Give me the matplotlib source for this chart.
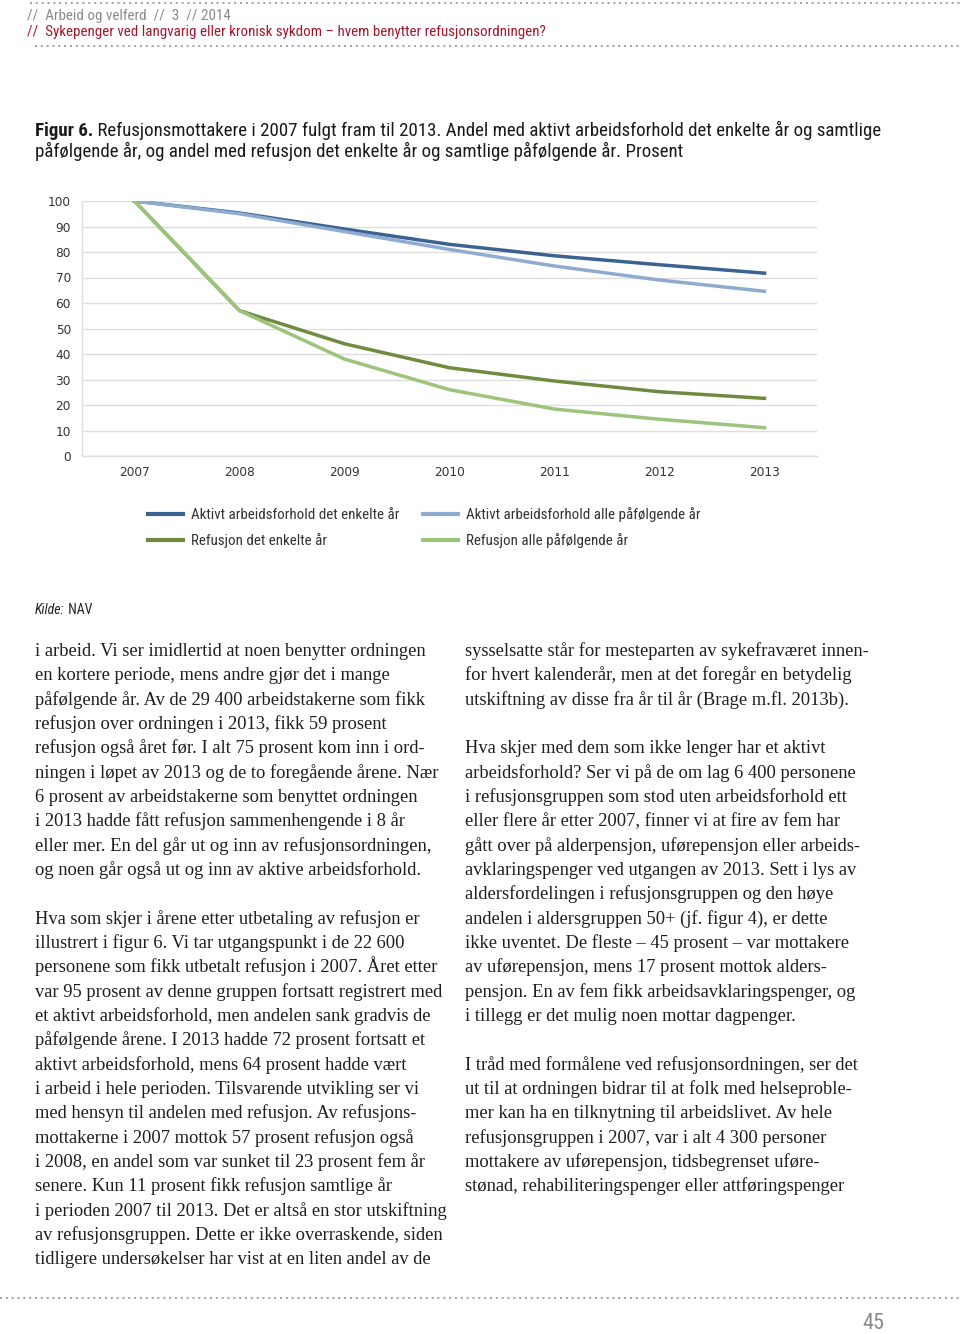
import matplotlib
matplotlib.use("Agg")
import matplotlib.pyplot as plt
from matplotlib.lines import Line2D

# ---------------- data ----------------
years = ["2007", "2008", "2009", "2010", "2011", "2012", "2013"]
aktiv_enkelte = [100, 95.3, 89, 83, 78.5, 75, 71.7]
aktiv_alle = [100, 95, 88, 81, 74.5, 69, 64.6]
refusjon_enkelte = [100, 57, 44, 34.6, 29.4, 25.2, 22.6]
refusjon_alle = [100, 57, 38, 26, 18.4, 14.4, 11.1]
series_labels = [
    "Aktivt arbeidsforhold det enkelte år",
    "Aktivt arbeidsforhold alle påfølgende år",
    "Refusjon det enkelte år",
    "Refusjon alle påfølgende år",
]
y_ticks = [0, 10, 20, 30, 40, 50, 60, 70, 80, 90, 100]

header_line1 = "//  Arbeid og velferd  //  3  // 2014"
header_line2 = "//  Sykepenger ved langvarig eller kronisk sykdom – hvem benytter refusjonsordningen?"
title_bold = "Figur 6."
title_rest1 = " Refusjonsmottakere i 2007 fulgt fram til 2013. Andel med aktivt arbeidsforhold det enkelte år og samtlige"
title_line2 = "påfølgende år, og andel med refusjon det enkelte år og samtlige påfølgende år. Prosent"
source_label = "Kilde:"
source_value = " NAV"
page_number = "45"

left_col = [
    (0, "i arbeid. Vi ser imidlertid at noen benytter ordningen"),
    (1, "en kortere periode, mens andre gjør det i mange"),
    (2, "påfølgende år. Av de 29 400 arbeidstakerne som fikk"),
    (3, "refusjon over ordningen i 2013, fikk 59 prosent"),
    (4, "refusjon også året før. I alt 75 prosent kom inn i ord-"),
    (5, "ningen i løpet av 2013 og de to foregående årene. Nær"),
    (6, "6 prosent av arbeidstakerne som benyttet ordningen"),
    (7, "i 2013 hadde fått refusjon sammenhengende i 8 år"),
    (8, "eller mer. En del går ut og inn av refusjonsordningen,"),
    (9, "og noen går også ut og inn av aktive arbeidsforhold."),
    (11, "Hva som skjer i årene etter utbetaling av refusjon er"),
    (12, "illustrert i figur 6. Vi tar utgangspunkt i de 22 600"),
    (13, "personene som fikk utbetalt refusjon i 2007. Året etter"),
    (14, "var 95 prosent av denne gruppen fortsatt registrert med"),
    (15, "et aktivt arbeidsforhold, men andelen sank gradvis de"),
    (16, "påfølgende årene. I 2013 hadde 72 prosent fortsatt et"),
    (17, "aktivt arbeidsforhold, mens 64 prosent hadde vært"),
    (18, "i arbeid i hele perioden. Tilsvarende utvikling ser vi"),
    (19, "med hensyn til andelen med refusjon. Av refusjons-"),
    (20, "mottakerne i 2007 mottok 57 prosent refusjon også"),
    (21, "i 2008, en andel som var sunket til 23 prosent fem år"),
    (22, "senere. Kun 11 prosent fikk refusjon samtlige år"),
    (23, "i perioden 2007 til 2013. Det er altså en stor utskiftning"),
    (24, "av refusjonsgruppen. Dette er ikke overraskende, siden"),
    (25, "tidligere undersøkelser har vist at en liten andel av de"),
]
right_col = [
    (0, "sysselsatte står for mesteparten av sykefraværet innen-"),
    (1, "for hvert kalenderår, men at det foregår en betydelig"),
    (2, "utskiftning av disse fra år til år (Brage m.fl. 2013b)."),
    (4, "Hva skjer med dem som ikke lenger har et aktivt"),
    (5, "arbeidsforhold? Ser vi på de om lag 6 400 personene"),
    (6, "i refusjonsgruppen som stod uten arbeidsforhold ett"),
    (7, "eller flere år etter 2007, finner vi at fire av fem har"),
    (8, "gått over på alderpensjon, uførepensjon eller arbeids-"),
    (9, "avklaringspenger ved utgangen av 2013. Sett i lys av"),
    (10, "aldersfordelingen i refusjonsgruppen og den høye"),
    (11, "andelen i aldersgruppen 50+ (jf. figur 4), er dette"),
    (12, "ikke uventet. De fleste – 45 prosent – var mottakere"),
    (13, "av uførepensjon, mens 17 prosent mottok alders-"),
    (14, "pensjon. En av fem fikk arbeidsavklaringspenger, og"),
    (15, "i tillegg er det mulig noen mottar dagpenger."),
    (17, "I tråd med formålene ved refusjonsordningen, ser det"),
    (18, "ut til at ordningen bidrar til at folk med helseproble-"),
    (19, "mer kan ha en tilknytning til arbeidslivet. Av hele"),
    (20, "refusjonsgruppen i 2007, var i alt 4 300 personer"),
    (21, "mottakere av uførepensjon, tidsbegrenset uføre-"),
    (22, "stønad, rehabiliteringspenger eller attføringspenger"),
]

# ---------------- styling ----------------
W, H = 960, 1334
SANS = ["Liberation Sans Narrow", "Roboto Condensed", "Roboto", "DejaVu Sans"]
SERIF = ["Liberation Serif", "DejaVu Serif"]
CHART = ["DejaVu Sans"]
c_dark_blue = "#3a6391"
c_light_blue = "#8eabd0"
c_dark_green = "#6f8b3f"
c_light_green = "#9cc47b"
grid_c = "#dedede"

fig = plt.figure(figsize=(W / 100, H / 100), dpi=100)
fig.patch.set_facecolor("white")
renderer = fig.canvas.get_renderer()


def fx(x):
    return x / W


def fy(y):
    return 1 - y / H


def width_px(s, **kw):
    t = fig.text(0, 0, s, **kw)
    w = t.get_window_extent(renderer).width
    t.remove()
    return w


def fit(s, target, **kw):
    return 10 * target / width_px(s, fontsize=10, **kw)


def dotted(x0, x1, y):
    fig.add_artist(Line2D([fx(x0), fx(x1)], [fy(y), fy(y)], transform=fig.transFigure,
                          linestyle=(0, (1, 2)), color="#a0a0a0", lw=1.4))


# header
dotted(30, 960, 3)
dotted(35, 960, 46)
dotted(0, 960, 1298)

hs = fit(header_line2, 516, family=SANS)
fig.text(fx(27), fy(20), header_line1, family=SANS, fontsize=hs, color="#8a8a8a", va="baseline")
fig.text(fx(27), fy(36), header_line2, family=SANS, fontsize=hs, color="#a3162f", va="baseline")

# figure title
ts = fit(title_bold + title_rest1, 836, family=SANS)
fig.text(fx(35), fy(136), title_bold, family=SANS, fontsize=ts, weight="bold", color="#1a1a1a", va="baseline")
bw = width_px(title_bold, family=SANS, fontsize=ts, weight="bold")
fig.text(fx(35 + bw), fy(136), title_rest1, family=SANS, fontsize=ts, color="#1a1a1a", va="baseline")
fig.text(fx(35), fy(157), title_line2, family=SANS, fontsize=ts, color="#1a1a1a", va="baseline")

# ---------------- chart ----------------
ax = fig.add_axes([fx(82), fy(456), fx(817) - fx(82), (456 - 201) / H])
xs = list(range(len(years)))
h1, = ax.plot(xs, aktiv_enkelte, color=c_dark_blue, lw=2.5, solid_joinstyle="round", label=series_labels[0])
h2, = ax.plot(xs, aktiv_alle, color=c_light_blue, lw=2.5, solid_joinstyle="round", label=series_labels[1])
h3, = ax.plot(xs, refusjon_enkelte, color=c_dark_green, lw=2.5, solid_joinstyle="round", label=series_labels[2])
h4, = ax.plot(xs, refusjon_alle, color=c_light_green, lw=2.5, solid_joinstyle="round", label=series_labels[3])
ax.set_xlim(-0.5, len(years) - 0.5)
ax.set_ylim(0, 100)
ax.set_xticks(xs)
ax.set_xticklabels(years)
ax.set_yticks(y_ticks)
ax.yaxis.grid(True, color=grid_c, lw=1.0)
ax.set_axisbelow(True)
for s in ["top", "right"]:
    ax.spines[s].set_visible(False)
for s in ["left", "bottom"]:
    ax.spines[s].set_color(grid_c)
    ax.spines[s].set_linewidth(1.0)
ax.tick_params(axis="both", length=0, labelsize=8.7, labelcolor="#333333")
ax.tick_params(axis="x", pad=7.5)
ax.tick_params(axis="y", pad=8)
for lab in ax.get_xticklabels() + ax.get_yticklabels():
    lab.set_family(CHART)

# legend
ls = fit(series_labels[0], 207, family=SANS)
lpx = ls * 100 / 72
leg = fig.legend(handles=[h1, h3, h2, h4], labels=[series_labels[0], series_labels[2], series_labels[1], series_labels[3]],
                 ncol=2, loc="center left", bbox_to_anchor=(fx(148), fy(527.5)), frameon=False,
                 prop={"family": SANS, "size": ls}, handlelength=35 / lpx, handletextpad=8 / lpx,
                 columnspacing=24 / lpx, labelspacing=0.75, borderpad=0, borderaxespad=0)
for t in leg.get_texts():
    t.set_color("#333333")
for l in leg.get_lines():
    l.set_linewidth(3.0)

# source
ks = fit(source_label + source_value, 58, family=SANS)
fig.text(fx(35), fy(614), source_label, family=SANS, fontsize=ks, style="italic", color="#222222", va="baseline")
kw = width_px(source_label, family=SANS, fontsize=ks, style="italic")
fig.text(fx(35 + kw), fy(614), source_value, family=SANS, fontsize=ks, color="#222222", va="baseline")

# ---------------- body text ----------------
bs = fit("ningen i løpet av 2013 og de to foregående årene. Nær", 404, family=SERIF)
pitch = 24.33
for k, s in left_col:
    fig.text(fx(35), fy(656 + pitch * k), s, family=SERIF, fontsize=bs, color="#1e1e1e", va="baseline")
for k, s in right_col:
    fig.text(fx(465), fy(656 + pitch * k), s, family=SERIF, fontsize=bs, color="#1e1e1e", va="baseline")

# page number
ps = fit(page_number, 22, family=SANS)
fig.text(fx(873), fy(1329), page_number, family=SANS, fontsize=ps, color="#8a8a8a", ha="center", va="baseline")

fig.savefig("out.png", dpi=100, facecolor="white")
